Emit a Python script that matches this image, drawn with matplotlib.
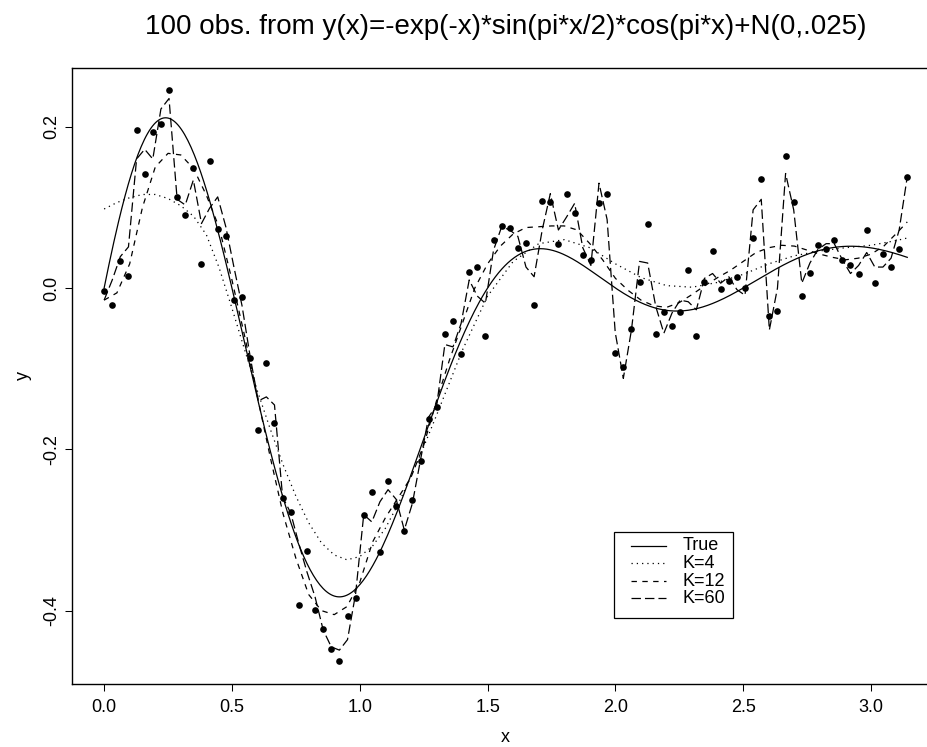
import numpy as np
import matplotlib
matplotlib.use("Agg")
import matplotlib.pyplot as plt
from matplotlib.lines import Line2D
from matplotlib.patches import Rectangle

plt.rcParams['font.family'] = ['Liberation Sans', 'DejaVu Sans']
plt.rcParams['lines.scale_dashes'] = False

# ---- data -------------------------------------------------------------
n_obs = 100
x_obs = np.linspace(0.0, np.pi, n_obs)

y_obs = [
    -0.004, -0.021, 0.033, 0.015, 0.196, 0.142, 0.193, 0.204, 0.246, 0.113,
    0.090, 0.149, 0.030, 0.157, 0.073, 0.064, -0.015, -0.011, -0.087, -0.176,
    -0.093, -0.167, -0.260, -0.278, -0.393, -0.326, -0.399, -0.423, -0.447, -0.463,
    -0.407, -0.384, -0.281, -0.253, -0.327, -0.239, -0.270, -0.301, -0.263, -0.215,
    -0.162, -0.148, -0.057, -0.041, -0.082, 0.020, 0.026, -0.059, 0.060, 0.077,
    0.074, 0.050, 0.056, -0.021, 0.108, 0.107, 0.055, 0.117, 0.093, 0.041,
    0.035, 0.105, 0.117, -0.081, -0.098, -0.051, 0.007, 0.080, -0.057, -0.030,
    -0.047, -0.030, 0.022, -0.060, 0.007, 0.046, -0.001, 0.009, 0.014, 0.000,
    0.062, 0.135, -0.035, -0.029, 0.164, 0.107, -0.010, 0.019, 0.053, 0.048,
    0.060, 0.035, 0.029, 0.017, 0.072, 0.006, 0.042, 0.026, 0.048, 0.138,
]

# K=60 estimate, evaluated at the observation points
k60_y = [
    -0.015, 0.010, 0.039, 0.051, 0.160, 0.172, 0.160, 0.222, 0.235, 0.110,
    0.103, 0.134, 0.080, 0.099, 0.113, 0.076, 0.026, -0.022, -0.085, -0.140,
    -0.135, -0.145, -0.259, -0.279, -0.317, -0.352, -0.383, -0.424, -0.445, -0.449,
    -0.436, -0.379, -0.281, -0.290, -0.265, -0.250, -0.262, -0.300, -0.267, -0.213,
    -0.160, -0.145, -0.070, -0.073, -0.044, 0.010, -0.010, -0.019, 0.047, 0.076,
    0.072, 0.064, 0.026, 0.014, 0.072, 0.117, 0.072, 0.088, 0.105, 0.050,
    0.028, 0.130, 0.085, -0.055, -0.112, -0.052, 0.033, 0.031, -0.023, -0.056,
    -0.031, -0.015, -0.017, -0.027, 0.012, 0.018, 0.006, 0.014, -0.002, -0.009,
    0.097, 0.110, -0.052, 0.000, 0.142, 0.097, 0.006, 0.031, 0.048, 0.055,
    0.055, 0.035, 0.018, 0.028, 0.044, 0.026, 0.026, 0.037, 0.072, 0.138,
]

# K=4 estimate
k4_x = [0.00, 0.05, 0.10, 0.15, 0.20, 0.25, 0.30, 0.35, 0.40, 0.45,
        0.50, 0.55, 0.60, 0.65, 0.70, 0.75, 0.80, 0.85, 0.90, 0.95,
        1.00, 1.05, 1.10, 1.15, 1.20, 1.25, 1.30, 1.40, 1.50, 1.60,
        1.70, 1.80, 1.90, 2.00, 2.10, 2.20, 2.30, 2.40, 2.50, 2.60,
        2.70, 2.80, 2.90, 3.00, 3.10, 3.1416]
k4_y = [0.098, 0.106, 0.112, 0.116, 0.116, 0.111, 0.102, 0.089, 0.066, 0.025,
        -0.025, -0.077, -0.128, -0.175, -0.219, -0.258, -0.291, -0.316, -0.331, -0.337,
        -0.333, -0.320, -0.298, -0.268, -0.234, -0.197, -0.158, -0.078, -0.010, 0.033,
        0.055, 0.060, 0.050, 0.030, 0.013, 0.003, 0.001, 0.007, 0.017, 0.030,
        0.040, 0.046, 0.050, 0.053, 0.059, 0.062]

# K=12 estimate
k12_x = [0.00, 0.05, 0.10, 0.15, 0.20, 0.25, 0.30, 0.35, 0.40, 0.45,
         0.50, 0.55, 0.60, 0.65, 0.70, 0.75, 0.80, 0.85, 0.90, 0.95,
         1.00, 1.05, 1.10, 1.15, 1.20, 1.25, 1.30, 1.35, 1.40, 1.45,
         1.50, 1.55, 1.60, 1.65, 1.70, 1.75, 1.80, 1.85, 1.90, 1.95,
         2.00, 2.05, 2.10, 2.15, 2.20, 2.25, 2.30, 2.35, 2.40, 2.45,
         2.50, 2.55, 2.60, 2.65, 2.70, 2.75, 2.80, 2.85, 2.90, 2.95,
         3.00, 3.05, 3.10, 3.1416]
k12_y = [-0.015, -0.006, 0.030, 0.100, 0.150, 0.167, 0.165, 0.148, 0.115, 0.075,
         0.010, -0.060, -0.135, -0.210, -0.280, -0.335, -0.380, -0.400, -0.405, -0.395,
         -0.365, -0.315, -0.285, -0.260, -0.235, -0.195, -0.140, -0.090, -0.045, 0.000,
         0.030, 0.052, 0.067, 0.075, 0.076, 0.077, 0.077, 0.072, 0.055, 0.035,
         0.012, -0.003, -0.015, -0.022, -0.024, -0.018, -0.008, 0.003, 0.013, 0.022,
         0.033, 0.044, 0.050, 0.053, 0.052, 0.047, 0.042, 0.038, 0.035, 0.037,
         0.042, 0.052, 0.068, 0.082]

title = "100 obs. from y(x)=-exp(-x)*sin(pi*x/2)*cos(pi*x)+N(0,.025)"
legend_labels = ["True", "K=4", "K=12", "K=60"]
x_ticks = [0.0, 0.5, 1.0, 1.5, 2.0, 2.5, 3.0]
y_ticks = [-0.4, -0.2, 0.0, 0.2]


def true_curve(x):
    return np.exp(-x) * np.sin(np.pi * x / 2) * np.cos(np.pi * x)


# ---- figure -----------------------------------------------------------
W, H = 928, 747
fig = plt.figure(figsize=(W / 100, H / 100), dpi=100)

# plot region in pixels: left 72, top 67.7, bottom 684, right 939.4
ax = fig.add_axes([72 / W, (H - 684) / H, (939.4 - 72) / W, (684 - 67.7) / H])

LW = 0.9
FS = 13
styles = {
    "True": dict(linestyle="-"),
    "K=4": dict(linestyle=(0, (0.9, 2.9))),
    "K=12": dict(linestyle=(0, (3.9, 3.9))),
    "K=60": dict(linestyle=(0, (6.8, 2.9))),
}

xg = np.linspace(0.0, np.pi, 500)
ax.plot(x_obs, y_obs, "o", color="black", ms=4.8, mew=0, zorder=3)
ax.plot(xg, true_curve(xg), color="black", lw=LW, **styles["True"])
ax.plot(k4_x, k4_y, color="black", lw=LW, **styles["K=4"])
ax.plot(k12_x, k12_y, color="black", lw=LW, **styles["K=12"])
ax.plot(x_obs, k60_y, color="black", lw=LW, **styles["K=60"])

ax.set_xlim(-0.12566, 3.26726)
ax.set_ylim(-0.491, 0.2732)
ax.set_xticks(x_ticks)
ax.set_xticklabels([f"{v:.1f}" for v in x_ticks])
ax.set_yticks(y_ticks)
ax.set_yticklabels([f"{v:.1f}" for v in y_ticks], rotation=90, va="center")
ax.tick_params(direction="out", length=5, width=0.75, labelsize=FS)
ax.tick_params(axis="x", pad=5.5)
ax.tick_params(axis="y", pad=3.8)

for side in ("left", "bottom", "top", "right"):
    ax.spines[side].set_linewidth(1.0)

ax.set_xlabel("x", fontsize=FS, labelpad=10)
ax.set_ylabel("y", fontsize=FS, labelpad=8)
ax.set_title(title, fontsize=20, pad=24)

# ---- legend box (pixel layout) ---------------------------------------
def fx(px):
    return px / W

def fy(py):
    return 1 - py / H

fig.patches.append(Rectangle((fx(614.3), fy(617.7)), (732.7 - 614.3) / W,
                             (617.7 - 532.3) / H, transform=fig.transFigure,
                             fill=False, edgecolor="black", lw=0.9))
row_y = [546, 563.3, 581, 598.3]
for lab, ry in zip(legend_labels, row_y):
    fig.lines.append(Line2D([fx(631), fx(666)], [fy(ry), fy(ry)],
                            transform=fig.transFigure, color="black", lw=LW,
                            **styles[lab]))
    fig.text(fx(682.7), fy(ry), lab, fontsize=FS, va="center", ha="left")

fig.savefig("out.png", dpi=100)
